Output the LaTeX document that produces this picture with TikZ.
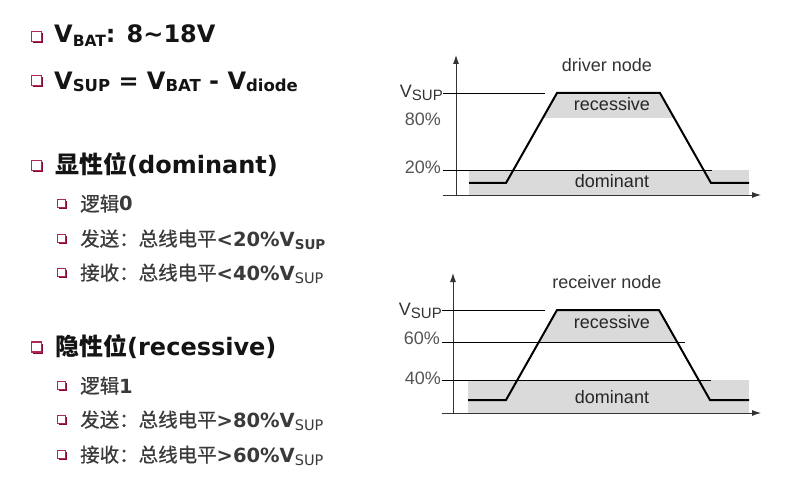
\documentclass[tikz,border=0pt]{standalone}
\usepackage{fontspec}
\setmainfont{DejaVu Sans}
\newfontfamily\arialf{Liberation Sans}
\newfontfamily\cjk{Noto Sans CJK SC}
\newfontfamily\cjkm[FakeBold=0.7]{Noto Sans CJK SC}
\usetikzlibrary{arrows.meta}
\definecolor{bulc}{HTML}{B02856}
\definecolor{buls}{HTML}{85082E}
\definecolor{subgray}{HTML}{3A3A3A}
\definecolor{lblgray}{HTML}{555555}
\definecolor{shadegray}{HTML}{DADADA}
\newcommand\fs[1]{\fontsize{#1}{#1}\selectfont}
\newcommand\lowsub[3]{\raisebox{-#1pt}{\fs{#2}#3}}
\newcommand\mybul[3]{%
  \fill[buls] (#1+1.6,#2+1.6) rectangle (#1+#3+1.6,#2+#3+1.6);
  \draw[bulc, fill=white, line width=1.1pt] (#1,#2) rectangle (#1+#3,#2+#3);
}
\begin{document}
\begin{tikzpicture}[x=1pt,y=-1pt,
  hdr/.style={anchor=base west, inner sep=0, font=\fs{24}\bfseries, text=black!92},
  subl/.style={anchor=base west, inner sep=0, font=\fs{19.5}, text=subgray},
  lbl/.style={inner sep=0, font=\arialf\fs{18}, text=lblgray},
  wlbl/.style={anchor=base, inner sep=0, font=\arialf\fs{18}, text=black!85},
  axis/.style={line width=0.9pt, black!80, -{Latex[length=9pt,width=6pt]}},
  refl/.style={line width=0.7pt, black},
  wave/.style={line width=2pt, black, line join=miter},
  shade/.style={fill=shadegray}]
\useasboundingbox (0,0) rectangle (801,484);
\fill[white] (0,0) rectangle (801,484);

% ---------- left text ----------
\mybul{31.7}{31.5}{10}
\node[hdr] (l1) at (54,43) {V\lowsub{4}{15.5}{BAT}: 8\char"7E 18V};
\mybul{31.7}{75.5}{10}
\node[hdr] (l2) at (54,90) {V\lowsub{2}{16.5}{SUP} = V\lowsub{2}{16.5}{BAT} - V\lowsub{2}{16.5}{diode}};
\mybul{31.7}{160.5}{10}
\node[hdr] (l3) at (55,174) {{\cjk 显性位}(dominant)};
\mybul{57.3}{199.5}{8}
\node[subl] (l4) at (80,211) {{\cjkm 逻辑}\textbf{0}};
\mybul{57.3}{234.5}{8}
\node[subl] (l5) at (80,246) {{\cjkm 发送：总线电平}\textbf{<20\%V\lowsub{3}{13.5}{SUP}}};
\mybul{57.3}{268.5}{8}
\node[subl] (l6) at (80,280) {{\cjkm 接收：总线电平}\textbf{<40\%V}\lowsub{3}{14.5}{SUP}};
\mybul{31.7}{342}{10}
\node[hdr] (l7) at (55,355) {{\cjk 隐性位}(recessive)};
\mybul{57.3}{381.5}{8}
\node[subl] (l8) at (80,393) {{\cjkm 逻辑}\textbf{1}};
\mybul{57.3}{415.5}{8}
\node[subl] (l9) at (80,427) {{\cjkm 发送：总线电平}\textbf{>80\%V}\lowsub{3}{14.5}{SUP}};
\mybul{57.3}{450.5}{8}
\node[subl] (l10) at (80,462) {{\cjkm 接收：总线电平}\textbf{>60\%V}\lowsub{3}{14.5}{SUP}};

% ---------- driver node graph ----------
\fill[shade] (506+65*0.5667,118) -- (557,93) -- (660,93) -- (660+25*0.5667,118) -- cycle;
\fill[shade] (469,170) rectangle (749,196);
\coordinate (dyb) at (456,196);
\coordinate (dyt) at (456,55);
\coordinate (dxl) at (443,195);
\coordinate (dxr) at (761,195);
\draw[axis] (dyb) -- (dyt);
\draw[axis] (dxl) -- (dxr);
\coordinate (dv0) at (443,93);
\coordinate (dv1) at (545,93);
\coordinate (d20a) at (443,170);
\coordinate (d20b) at (712,170);
\draw[refl] (dv0) -- (dv1);
\draw[refl] (d20a) -- (d20b);
\draw[wave] (469,183) -- (506,183) -- (557,93) -- (660,93) -- (711,183) -- (749,183);
\node[lbl, anchor=base east, text=black!80] (dvs) at (443,98) {V\lowsub{3}{15}{SUP}};
\node[lbl, anchor=base east] (d80) at (441,126) {80\%};
\node[lbl, anchor=base east] (d20) at (441,173.5) {20\%};
\node[wlbl, text=black!80] (dtitle) at (607,72) {driver node};
\node[wlbl] (drec) at (612,111) {recessive};
\node[wlbl] (ddom) at (612,187) {dominant};

% ---------- receiver node graph ----------
\fill[shade] (506+58*0.5667,342) -- (557,310) -- (659,310) -- (659+32*0.5667,342) -- cycle;
\fill[shade] (468,380) rectangle (749,413);
\coordinate (ryb) at (453,413);
\coordinate (ryt) at (453,273);
\coordinate (rxl) at (442,413);
\coordinate (rxr) at (761,413);
\draw[axis] (ryb) -- (ryt);
\draw[axis] (rxl) -- (rxr);
\coordinate (rv0) at (442,310);
\coordinate (rv1) at (545,310);
\coordinate (r60a) at (442,342);
\coordinate (r60b) at (685,342);
\coordinate (r40a) at (442,380);
\coordinate (r40b) at (711,380);
\draw[refl] (rv0) -- (rv1);
\draw[refl] (r60a) -- (r60b);
\draw[refl] (r40a) -- (r40b);
\draw[wave] (468,400) -- (506,400) -- (557,310) -- (659,310) -- (710,400) -- (749,400);
\node[lbl, anchor=base east, text=black!80] (rvs) at (442,315) {V\lowsub{3}{15}{SUP}};
\node[lbl, anchor=base east] (r60) at (440,344) {60\%};
\node[lbl, anchor=base east] (r40) at (441,384) {40\%};
\node[wlbl, text=black!80] (rtitle) at (607,288) {receiver node};
\node[wlbl] (rrec) at (612,328) {recessive};
\node[wlbl] (rdom) at (612,403) {dominant};
\end{tikzpicture}
\end{document}
